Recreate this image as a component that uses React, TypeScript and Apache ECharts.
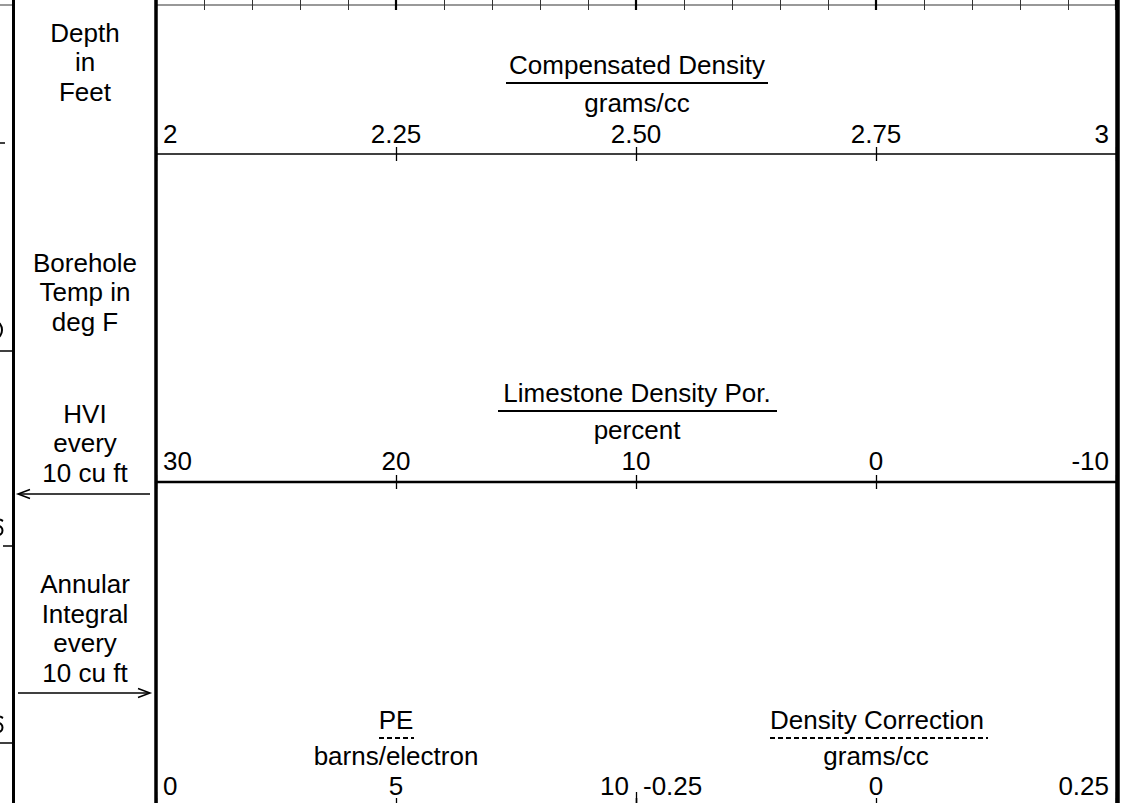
import React, { useEffect, useRef } from 'react';
import * as echarts from 'echarts';

// ---------- data ----------
const RULER_MIN = 0;
const RULER_MAX = 20;
const RULER_MINOR_STEP = 1;
const RULER_MAJOR_STEP = 5;

const DENSITY_TICKS = [2, 2.25, 2.5, 2.75, 3];
const DENSITY_LABELS = ['2', '2.25', '2.50', '2.75', '3'];

const POROSITY_TICKS = [-10, 0, 10, 20, 30];
const POROSITY_LABELS = ['-10', '0', '10', '20', '30'];

const PE_TICKS = [0, 5, 10];
const PE_LABELS = ['0', '5', '10'];

const DRHO_TICKS = [-0.25, 0, 0.25];
const DRHO_LABELS = ['-0.25', '0', '0.25'];

const SPLIT_TICKS = [0, 1, 2];

const LEFT_BLOCKS = [
  { lines: ['Depth', 'in', 'Feet'], baseline: 42 },
  { lines: ['Borehole', 'Temp in', 'deg F'], baseline: 272 },
  { lines: ['HVI', 'every', '10 cu ft'], baseline: 423 },
  { lines: ['Annular', 'Integral', 'every', '10 cu ft'], baseline: 593.5 },
];

const HEADINGS = [
  { text: 'Compensated Density', cx: 637, baseline: 74, underline: [506, 768, 83], dashed: false },
  { text: 'grams/cc', cx: 637, baseline: 112 },
  { text: 'Limestone Density Por.', cx: 637, baseline: 402, underline: [498, 777, 411], dashed: false },
  { text: 'percent', cx: 637, baseline: 439 },
  { text: 'PE', cx: 396, baseline: 729, underline: [379, 414, 738], dashed: true },
  { text: 'barns/electron', cx: 396, baseline: 765 },
  { text: 'Density Correction', cx: 877, baseline: 729, underline: [770, 988, 738], dashed: true },
  { text: 'grams/cc', cx: 876, baseline: 765 },
];

// ---------- style / layout ----------
const FONT = '"Liberation Sans", Arial, Helvetica, sans-serif';
const FS = 26;
const CENTRAL = 0.3465; // distance baseline -> central baseline, in em
const LH = 29.5;
const W = 1143;
const H = 803;
const TRACK_L = 156;
const TRACK_W = 960;
const HALF_W = 480;

function fmt(ticks: number[], labels: string[]) {
  return (v: number) => {
    const k = ticks.findIndex((t) => Math.abs(t - v) < 1e-9);
    return k >= 0 ? labels[k] : '';
  };
}

function buildOption() {
  const grid: any[] = [];
  const xAxis: any[] = [];
  const yAxis: any[] = [];

  const add = (left: number, width: number, top: number, axis: any) => {
    const i = grid.length;
    grid.push({ left, top, width, height: 10 });
    yAxis.push({ gridIndex: i, type: 'value', min: 0, max: 1, show: false });
    xAxis.push(
      Object.assign(
        {
          gridIndex: i,
          type: 'value',
          position: 'top',
          splitLine: { show: false },
        },
        axis
      )
    );
  };

  // top ruler
  add(TRACK_L, TRACK_W, 10, {
    min: RULER_MIN, max: RULER_MAX, interval: RULER_MINOR_STEP, offset: 5,
    axisLine: { show: true, onZero: false, lineStyle: { color: '#777', width: 1.5 } },
    axisTick: { show: false }, axisLabel: { show: false },
  });
  add(TRACK_L, TRACK_W, 10, {
    min: RULER_MIN, max: RULER_MAX, interval: RULER_MINOR_STEP,
    axisLine: { show: false, onZero: false },
    axisTick: { show: true, length: 10, lineStyle: { color: '#333', width: 1 } },
    axisLabel: { show: false },
  });
  add(TRACK_L, TRACK_W, 10, {
    min: RULER_MIN, max: RULER_MAX, interval: RULER_MAJOR_STEP,
    axisLine: { show: false, onZero: false },
    axisTick: { show: true, length: 10, lineStyle: { color: '#000', width: 2.2 } },
    axisLabel: { show: false },
  });

  const scale = (
    left: number, width: number, top: number,
    min: number, max: number, interval: number, inverse: boolean,
    ticks: number[], labels: string[], lineWidth: number, margin: number
  ) => {
    add(left, width, top, {
      min, max, interval, inverse,
      axisLine: { show: true, onZero: false, lineStyle: { color: '#000', width: lineWidth } },
      axisTick: { show: true, length: 7, lineStyle: { color: '#000', width: 1.3 } },
      axisLabel: {
        show: true, color: '#000', fontSize: FS, fontFamily: FONT, margin,
        padding: [0, 7, 0, 7],
        showMinLabel: true, showMaxLabel: true,
        alignMinLabel: inverse ? 'right' : 'left',
        alignMaxLabel: inverse ? 'left' : 'right',
        formatter: fmt(ticks, labels),
      },
    });
    add(left, width, top, {
      min, max, interval, inverse,
      axisLine: { show: false, onZero: false },
      axisTick: { show: true, inside: true, length: 7, lineStyle: { color: '#000', width: 1.3 } },
      axisLabel: { show: false },
    });
  };

  scale(TRACK_L, TRACK_W, 154, 2, 3, 0.25, false, DENSITY_TICKS, DENSITY_LABELS, 1.6, 7);
  scale(TRACK_L, TRACK_W, 482, -10, 30, 10, true, POROSITY_TICKS, POROSITY_LABELS, 2.4, 8);
  scale(TRACK_L, HALF_W, 805, 0, 10, 5, false, PE_TICKS, PE_LABELS, 1.6, 6);
  scale(TRACK_L + HALF_W, HALF_W, 805, -0.25, 0.25, 0.25, false, DRHO_TICKS, DRHO_LABELS, 1.6, 6);
  // longer tick at the boundary between the two half-scales
  add(TRACK_L, TRACK_W, 805, {
    min: SPLIT_TICKS[0], max: SPLIT_TICKS[SPLIT_TICKS.length - 1], interval: 1,
    axisLine: { show: false, onZero: false },
    axisTick: { show: true, length: 13, lineStyle: { color: '#000', width: 1.3 } },
    axisLabel: { show: false },
  });

  const graphic: any[] = [];
  const textEl = (text: string, x: number, baseline: number, align = 'center') => ({
    type: 'text', x, y: baseline - FS * CENTRAL, z: 20,
    style: { text, align, verticalAlign: 'middle', font: `${FS}px ${FONT}`, fill: '#000' },
  });
  const lineEl = (x1: number, y1: number, x2: number, y2: number, w: number, color = '#000', dash?: number[]) => ({
    type: 'line', z: 30,
    shape: { x1, y1, x2, y2 },
    style: { stroke: color, lineWidth: w, lineDash: dash },
  });

  LEFT_BLOCKS.forEach((b) => {
    b.lines.forEach((t, i) => graphic.push(textEl(t, 85, b.baseline + i * LH)));
  });

  HEADINGS.forEach((h: any) => {
    graphic.push(textEl(h.text, h.cx, h.baseline));
    if (h.underline) {
      const [x1, x2, y] = h.underline;
      graphic.push(lineEl(x1, y, x2, y, 2, '#000', h.dashed ? [5, 3] : undefined));
    }
  });

  // arrows
  graphic.push(lineEl(150, 494, 19, 494, 1.5));
  graphic.push({ type: 'polyline', z: 30, shape: { points: [[30, 489.5], [18, 494], [30, 498.5]] }, style: { stroke: '#000', lineWidth: 1.5, fill: 'none' } });
  graphic.push(lineEl(18, 693, 149, 693, 1.5));
  graphic.push({ type: 'polyline', z: 30, shape: { points: [[138, 688.5], [150, 693], [138, 697.5]] }, style: { stroke: '#000', lineWidth: 1.5, fill: 'none' } });

  // slivers of the neighbouring track visible at the far left edge
  graphic.push(lineEl(0, 5, 12, 5, 1.5, '#777'));
  graphic.push(lineEl(0, 143, 5, 143, 1.5));
  graphic.push(lineEl(0, 351, 12, 351, 1.5));
  graphic.push(lineEl(3, 546, 12, 546, 1.5));
  graphic.push(lineEl(0, 743, 12, 743, 1.5));
  graphic.push({ type: 'ellipse', z: 30, shape: { cx: -4, cy: 330, rx: 6, ry: 8 }, style: { stroke: '#000', lineWidth: 2, fill: 'none' } });
  [527, 724].forEach((cy) => {
    graphic.push({ type: 'arc', z: 30, shape: { cx: -2, cy: cy + 3.5, r: 4.5, startAngle: -Math.PI / 2, endAngle: Math.PI / 2 }, style: { stroke: '#000', lineWidth: 2, fill: 'none' } });
    graphic.push(lineEl(0, cy - 7.5, 3, cy - 6, 2));
  });

  // borders
  graphic.push({ ...lineEl(13.5, 0, 13.5, H, 3), z: 50 });
  graphic.push({ ...lineEl(156, 0, 156, H, 3.5), z: 50 });
  graphic.push({ ...lineEl(1117.5, 0, 1117.5, H, 4.5), z: 50 });

  return {
    animation: false,
    backgroundColor: '#fff',
    grid,
    xAxis,
    yAxis,
    series: [],
    graphic,
  };
}

export default function App() {
  const ref = useRef<HTMLDivElement>(null);
  useEffect(() => {
    if (!ref.current) return;
    const chart = echarts.init(ref.current, null, { renderer: 'svg' });
    chart.setOption(buildOption());
    return () => chart.dispose();
  }, []);
  return (
    <div
      ref={ref}
      style={{ position: 'fixed', left: 0, top: 0, width: W, height: H, background: '#fff' }}
    />
  );
}
